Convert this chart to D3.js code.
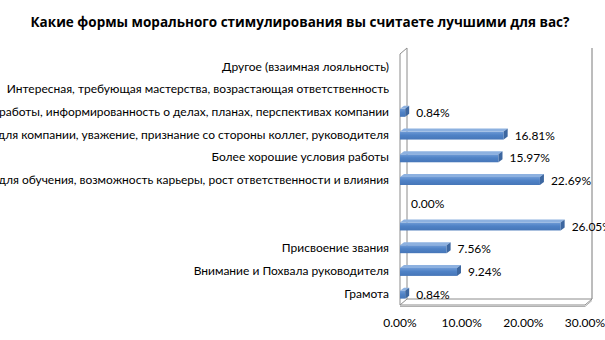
<!DOCTYPE html>
<html><head><meta charset="utf-8">
<script src="https://cdn.jsdelivr.net/npm/d3@7"></script>
<style>body{margin:0;background:#fff}svg{display:block}</style>
</head><body>
<script>
const categories = [
  "Грамота",
  "Внимание и Похвала руководителя",
  "Присвоение звания",
  "",
  "",
  "Возможность для обучения, возможность карьеры, рост ответственности и влияния",
  "Более хорошие условия работы",
  "Ощущение значимости для компании, уважение, признание со стороны коллег, руководителя",
  "Понимание целей работы, информированность о делах, планах, перспективах компании",
  "Интересная, требующая мастерства, возрастающая ответственность",
  "Другое (взаимная лояльность)"
];
const values = [0.84, 9.24, 7.56, 26.05, 0.00, 22.69, 15.97, 16.81, 0.84, null, null];
const ticks = [0, 10, 20, 30];
const title = "Какие формы морального стимулирования вы считаете лучшими для вас?";

const W = 605, H = 340;
const svg = d3.select("body").append("svg").attr("width", W).attr("height", H);
const x0 = 400, x1 = 585, yTop = 54, yBot = 305, dx = 7, dy = 6;
const x = d3.scaleLinear().domain([0, 30]).range([x0, x1]);
const y = d3.scaleBand().domain(d3.range(categories.length).reverse()).range([yTop + 1, yBot]);

const defs = svg.append("defs");
const g1 = defs.append("linearGradient").attr("id", "gf").attr("x1", 0).attr("y1", 0).attr("x2", 0).attr("y2", 1);
g1.append("stop").attr("offset", "0%").attr("stop-color", "#6f9bd6");
g1.append("stop").attr("offset", "45%").attr("stop-color", "#4f82c6");
g1.append("stop").attr("offset", "100%").attr("stop-color", "#4676b8");

svg.append("text").attr("x", 300).attr("y", 27).attr("text-anchor", "middle")
  .attr("font-family", "Open Sans, Noto Sans, sans-serif").attr("font-weight", "bold")
  .attr("font-size", 13.5).attr("fill", "#000").text(title);

// walls
const wall = svg.append("g").attr("fill", "none").attr("stroke", "#8c8c8c").attr("stroke-width", 1);
wall.append("path").attr("d", `M${x0},${yBot}L${x0},${yTop}L${x0+dx},${yTop-dy}L${x0+dx},${yBot-dy}`);
wall.append("path").attr("d", `M${x1+dx},${yTop-dy}L${x1+dx},${yBot-dy}`).attr("stroke", "#7a7a7a");
wall.append("path").attr("d", `M${x0},${yBot}L${x0+dx},${yBot-dy}L${x1+dx},${yBot-dy}L${x1},${yBot}Z`);
wall.append("path").attr("d", `M${x0},${yBot+1.5}L${x1},${yBot+1.5}L${x1+dx},${yBot-dy+1.5}`).attr("stroke", "#b0b0b0");

// bars
const bh = 8, bdx = 4, bdy = 3;
const bars = svg.append("g");
categories.forEach((c, i) => {
  const v = values[i];
  const cy = y(i) + y.bandwidth() / 2 + 1;
  if (v !== null && v > 0) {
    const xe = x(v), t = cy - bh / 2, b = cy + bh / 2;
    bars.append("rect").attr("x", x0).attr("y", t).attr("width", xe - x0).attr("height", bh).attr("fill", "url(#gf)");
    bars.append("path").attr("d", `M${x0},${t}L${x0+bdx},${t-bdy}L${xe+bdx},${t-bdy}L${xe},${t}Z`).attr("fill", "#8db1e0");
    bars.append("path").attr("d", `M${xe},${t}L${xe+bdx},${t-bdy}L${xe+bdx},${b-bdy}L${xe},${b}Z`).attr("fill", "#3d67a0");
  }
  if (v !== null) {
    svg.append("text").attr("x", x(v) + 11).attr("y", cy).attr("dy", "0.35em")
      .attr("font-family", "Lato, sans-serif").attr("font-size", 12).attr("fill", "#000")
      .text(v.toFixed(2) + "%");
  }
  svg.append("text").attr("x", 389).attr("y", y(i) + y.bandwidth() / 2).attr("dy", "0.35em")
    .attr("text-anchor", "end").attr("font-family", "Lato, sans-serif").attr("font-size", 12)
    .attr("fill", "#000").text(c);
});

svg.append("g").selectAll("text").data(ticks).join("text")
  .attr("x", d => x(d)).attr("y", 327).attr("text-anchor", "middle")
  .attr("font-family", "Lato, sans-serif").attr("font-size", 12).attr("fill", "#000")
  .text(d => d.toFixed(2) + "%");
</script>
</body></html>
